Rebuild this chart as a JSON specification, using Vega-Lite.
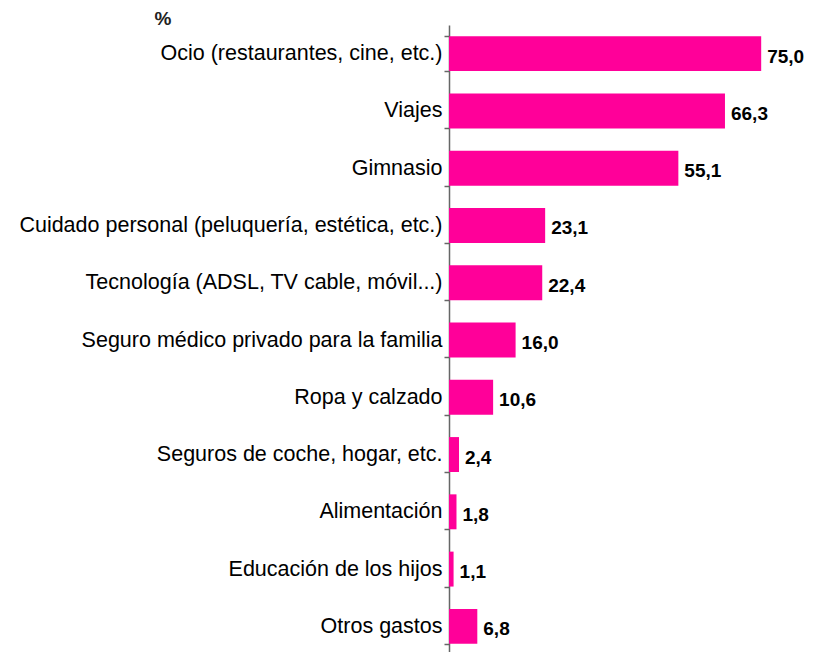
{
  "$schema": "https://vega.github.io/schema/vega-lite/v6.json",
  "autosize": "none",
  "width": 333,
  "height": 630,
  "padding": {"left": 449, "top": 25, "right": 41, "bottom": 0},
  "background": "white",
  "config": {"view": {"stroke": null}, "font": "Liberation Sans"},
  "data": {"values": [
    {"cat": "Ocio (restaurantes, cine, etc.)", "v": 75.0, "lab": "75,0"},
    {"cat": "Viajes", "v": 66.3, "lab": "66,3"},
    {"cat": "Gimnasio", "v": 55.1, "lab": "55,1"},
    {"cat": "Cuidado personal (peluquería, estética, etc.)", "v": 23.1, "lab": "23,1"},
    {"cat": "Tecnología (ADSL, TV cable, móvil...)", "v": 22.4, "lab": "22,4"},
    {"cat": "Seguro médico privado para la familia", "v": 16.0, "lab": "16,0"},
    {"cat": "Ropa y calzado", "v": 10.6, "lab": "10,6"},
    {"cat": "Seguros de coche, hogar, etc.", "v": 2.4, "lab": "2,4"},
    {"cat": "Alimentación", "v": 1.8, "lab": "1,8"},
    {"cat": "Educación de los hijos", "v": 1.1, "lab": "1,1"},
    {"cat": "Otros gastos", "v": 6.8, "lab": "6,8"}
  ]},
  "encoding": {
    "y": {
      "field": "cat", "type": "nominal", "sort": null,
      "scale": {"paddingInner": 0.39, "paddingOuter": 0.195},
      "axis": {
        "title": "%", "titleAngle": 0, "titleAlign": "left", "titleBaseline": "alphabetic",
        "titleX": -295, "titleY": -1, "titleFontSize": 19, "titleFontWeight": "bold", "titleColor": "#222",
        "labelFontSize": 21.5, "labelColor": "#000", "labelPadding": 2, "labelLimit": 0,
        "tickSize": 5, "tickColor": "#666", "domainColor": "#666", "tickBand": "extent", "tickWidth": 1.5,
        "domainWidth": 1.5
      }
    },
    "x": {"field": "v", "type": "quantitative", "scale": {"domain": [0, 80], "nice": false}, "axis": null}
  },
  "layer": [
    {"mark": {"type": "bar", "color": "#FF0099"}},
    {"mark": {"type": "text", "align": "left", "dx": 6, "fontSize": 19, "fontWeight": "bold", "color": "#000", "dy": 3},
     "encoding": {"text": {"field": "lab"}}}
  ]
}
